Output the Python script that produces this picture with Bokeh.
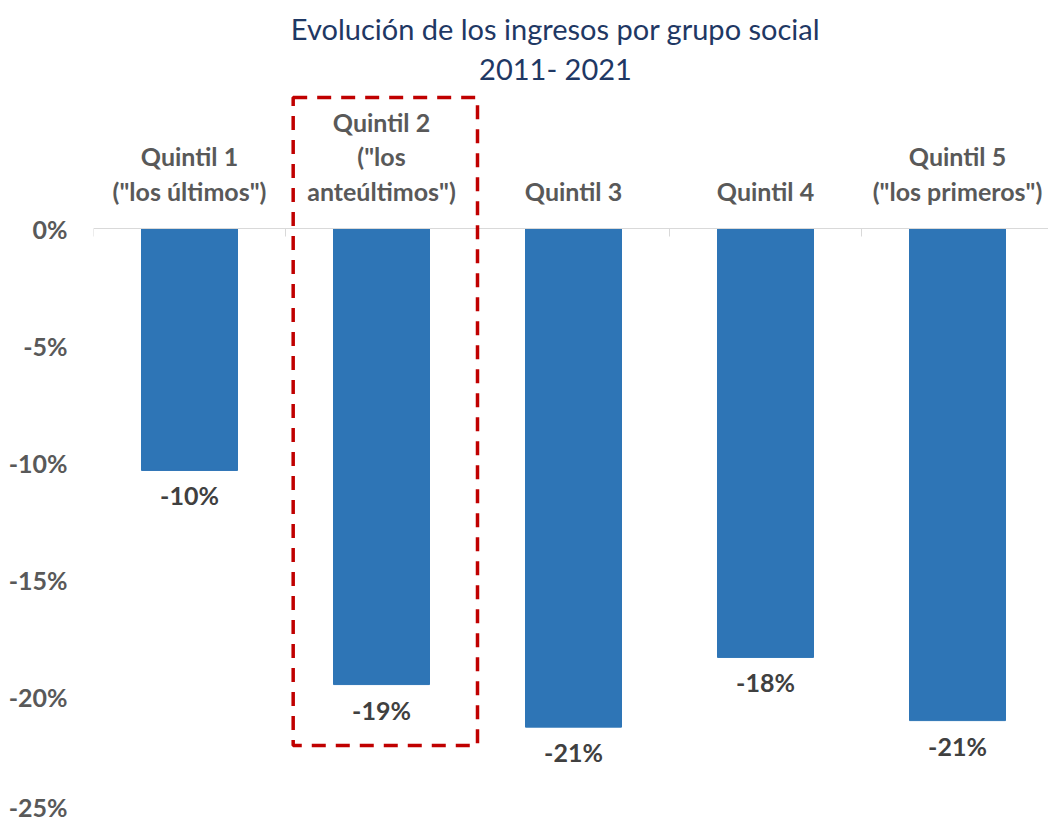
import numpy as np
from bokeh.plotting import figure
from bokeh.models import Range1d, FixedTicker, PrintfTickFormatter, Span, BoxAnnotation, Label, ColumnDataSource
from bokeh.core.properties import value
from bokeh.embed import file_html
from bokeh.resources import INLINE

# ---- data ----
categories = ['Quintil 1\n("los últimos")',
              'Quintil 2\n("los\nanteúltimos")',
              'Quintil 3',
              'Quintil 4',
              'Quintil 5\n("los primeros")']
values = [-10.34, -19.49, -21.31, -18.33, -21.03]
value_labels = ["-10%", "-19%", "-21%", "-18%", "-21%"]
y_ticks = [0, -5, -10, -15, -20, -25]
title_lines = ["Evolución de los ingresos por grupo social", "2011- 2021"]
highlight_index = 1

# ---- layout / style ----
W, H = 1048, 821
LEFT = 93
PX_PER_CAT = 192.0
PX_PER_UNIT = 23.4
FONT = "Lato"

frame_w = W - LEFT
x_end = frame_w / PX_PER_CAT
y_start = -25.0 - 8 / PX_PER_UNIT
y_end = y_start + H / PX_PER_UNIT

p = figure(width=W, height=H, output_backend="svg", toolbar_location=None,
           x_range=Range1d(0, x_end), y_range=Range1d(y_start, y_end),
           x_axis_location=None, title=None, min_border_left=LEFT, min_border_right=0,
           min_border_top=0, min_border_bottom=0)
p.outline_line_color = None
p.grid.grid_line_color = None
p.background_fill_color = "white"
p.border_fill_color = "white"

xs = np.arange(len(categories)) + 0.5
src = ColumnDataSource(dict(x=xs, top=[0] * len(values), bottom=values,
                            cat=categories, lab=value_labels))

# zero line
p.add_layout(Span(location=0, dimension="width", line_color="#D9D9D9", line_width=1))
# category boundary ticks
bounds = np.arange(len(categories) + 1)
p.ray(x=bounds, y=[0] * len(bounds), length=8, length_units="screen",
      angle=-np.pi / 2, line_color="#D9D9D9", line_width=1)

p.vbar(x="x", top="top", bottom="bottom", width=0.5, source=src,
       fill_color="#2E75B6", line_color="#2E75B6")

# category labels above the zero line
p.text(x="x", y="top", text="cat", source=src, text_align="center",
       text_baseline="bottom", y_offset=-23,
       text_font=value(FONT), text_font_style="bold", text_font_size="25px",
       text_color="#595959", text_line_height=1.15)

# value labels below bars
p.text(x="x", y="bottom", text="lab", source=src, text_align="center",
       text_baseline="middle", y_offset=25,
       text_font=value(FONT), text_font_style="bold", text_font_size="25px",
       text_color="#404040")

# highlight box
p.add_layout(BoxAnnotation(left=highlight_index + 0.04, right=highlight_index + 1.0,
                           top=5.6, bottom=-22.09,
                           fill_alpha=0, line_alpha=1, line_color="#C00000", line_width=3.5,
                           line_dash="14 10"))

# y axis
ax = p.yaxis[0]
ax.ticker = FixedTicker(ticks=y_ticks)
ax.formatter = PrintfTickFormatter(format="%d%%")
ax.axis_line_color = None
ax.major_tick_line_color = None
ax.minor_tick_line_color = None
ax.major_tick_out = 0
ax.major_tick_in = 0
ax.major_label_standoff = 26
ax.major_label_text_font = FONT
ax.major_label_text_font_style = "bold"
ax.major_label_text_font_size = "25px"
ax.major_label_text_color = "#595959"

# title (two centred lines)
for i, t in enumerate(title_lines):
    p.add_layout(Label(x=462, y=H - 28 - 40 * i, x_units="screen", y_units="screen",
                       text=t, text_align="center", text_baseline="middle",
                       text_font=FONT, text_font_size="29px", text_color="#1F3864"))

open("out.html", "w").write(file_html(p, INLINE))
